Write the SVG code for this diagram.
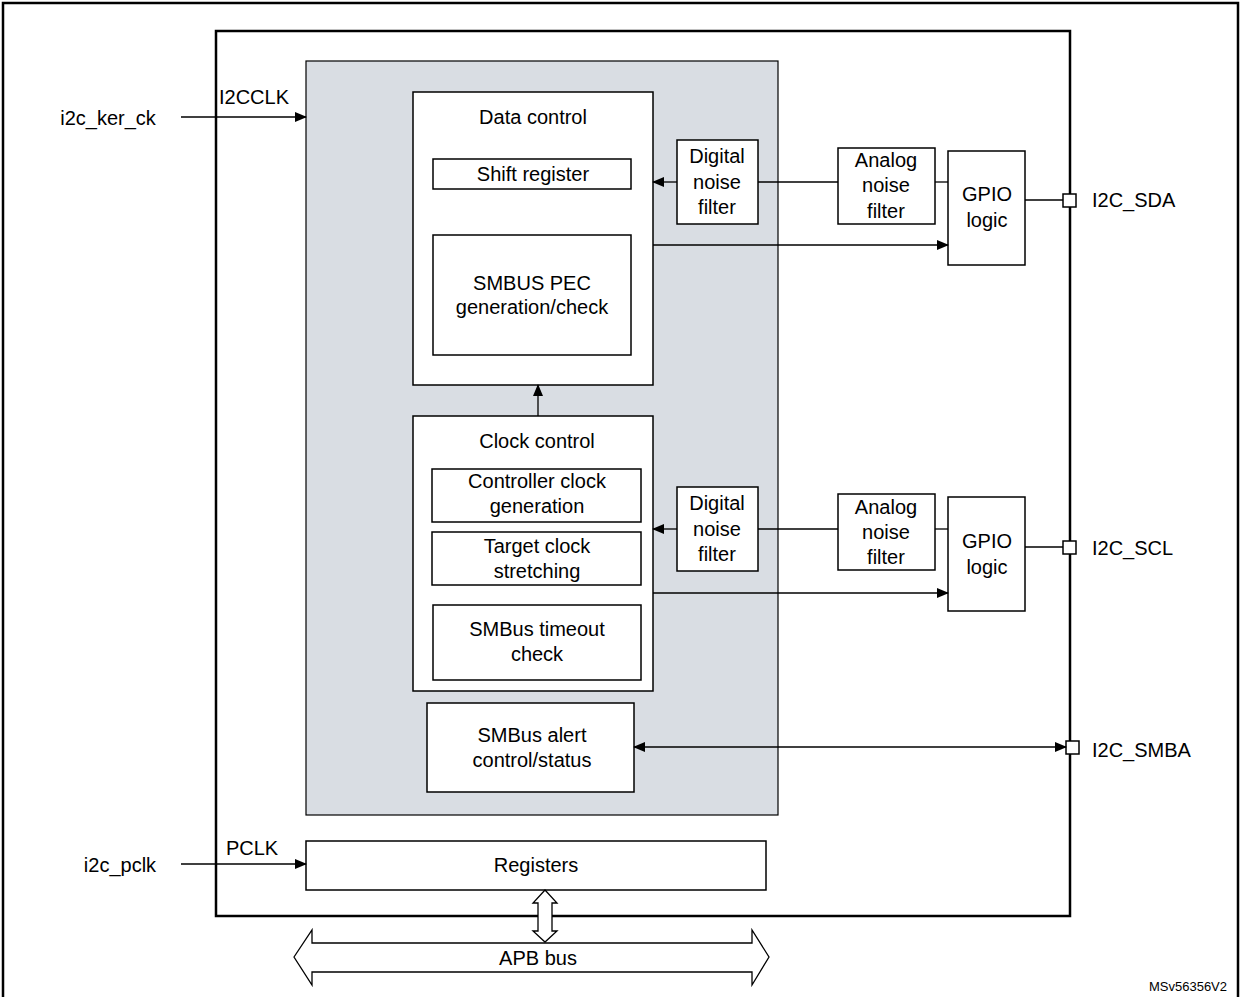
<svg xmlns="http://www.w3.org/2000/svg" width="1241" height="997" viewBox="0 0 1241 997">
<defs>
<marker id="ah" markerWidth="12" markerHeight="12" refX="11" refY="6" orient="auto-start-reverse" markerUnits="userSpaceOnUse"><path d="M0,1 L12,6 L0,11 z" fill="#000"/></marker>
<style>
text{font-family:"Liberation Sans",Arial,sans-serif;font-size:20px;fill:#000;text-anchor:middle}
.b{fill:#fff;stroke:#000;stroke-width:1.5}
.l{stroke:#000;stroke-width:1.3;fill:none}
</style>
</defs>
<rect width="1241" height="997" fill="#fff"/>
<path d="M3,997 V3 H1238 V997" fill="none" stroke="#000" stroke-width="2.5"/>
<rect id="i2c" x="216" y="31" width="854" height="885" fill="#fff" stroke="#000" stroke-width="2.5"/>
<rect id="core" x="306" y="61" width="472" height="754" fill="#d9dde3" stroke="#000" stroke-width="1.2"/>
<g id="datactl"><rect class="b" x="413" y="92" width="240" height="293"/><text x="533" y="124">Data control</text></g>
<g id="shift"><rect class="b" x="433" y="159" width="198" height="30"/><text x="533" y="181">Shift register</text></g>
<g id="pec"><rect class="b" x="433" y="235" width="198" height="120"/><text x="532" y="290">SMBUS PEC</text><text x="532" y="314">generation/check</text></g>
<g id="clkctl"><rect class="b" x="413" y="416" width="240" height="275"/><text x="537" y="448">Clock control</text></g>
<g id="ctrlclk"><rect class="b" x="432" y="469" width="209" height="53"/><text x="537" y="488">Controller clock</text><text x="537" y="513">generation</text></g>
<g id="tgtclk"><rect class="b" x="432" y="532" width="209" height="53"/><text x="537" y="553">Target clock</text><text x="537" y="578">stretching</text></g>
<g id="timeout"><rect class="b" x="433" y="605" width="208" height="75"/><text x="537" y="636">SMBus timeout</text><text x="537" y="661">check</text></g>
<g id="alert"><rect class="b" x="427" y="703" width="207" height="89"/><text x="532" y="742">SMBus alert</text><text x="532" y="767">control/status</text></g>
<g id="dnf1"><rect class="b" x="677" y="140" width="81" height="84"/><text x="717" y="163">Digital</text><text x="717" y="189">noise</text><text x="717" y="214">filter</text></g>
<g id="anf1"><rect class="b" x="838" y="148" width="97" height="76"/><text x="886" y="167">Analog</text><text x="886" y="192">noise</text><text x="886" y="218">filter</text></g>
<g id="gpio1"><rect class="b" x="948" y="151" width="77" height="114"/><text x="987" y="201">GPIO</text><text x="987" y="227">logic</text></g>
<g id="dnf2"><rect class="b" x="677" y="487" width="81" height="84"/><text x="717" y="510">Digital</text><text x="717" y="536">noise</text><text x="717" y="561">filter</text></g>
<g id="anf2"><rect class="b" x="838" y="494" width="97" height="76"/><text x="886" y="514">Analog</text><text x="886" y="539">noise</text><text x="886" y="564">filter</text></g>
<g id="gpio2"><rect class="b" x="948" y="497" width="77" height="114"/><text x="987" y="548">GPIO</text><text x="987" y="574">logic</text></g>
<g id="regs"><rect class="b" x="306" y="841" width="460" height="49"/><text x="536" y="872">Registers</text></g>
<g id="pins">
<rect class="b" x="1063" y="194" width="13" height="13"/><text x="1092" y="207" style="text-anchor:start">I2C_SDA</text>
<rect class="b" x="1063" y="541" width="13" height="13"/><text x="1092" y="555" style="text-anchor:start">I2C_SCL</text>
<rect class="b" x="1066" y="741" width="13" height="13"/><text x="1092" y="757" style="text-anchor:start">I2C_SMBA</text>
</g>
<g id="labels">
<text x="108" y="125">i2c_ker_ck</text><text x="254" y="104">I2CCLK</text>
<text x="120" y="872">i2c_pclk</text><text x="252" y="855">PCLK</text>
<text x="1188" y="991" style="font-size:13px">MSv56356V2</text>
</g>
<g id="connectors">
<line class="l" x1="181" y1="117" x2="306" y2="117" marker-end="url(#ah)"/>
<line class="l" x1="181" y1="864" x2="306" y2="864" marker-end="url(#ah)"/>
<line class="l" x1="677" y1="182" x2="653" y2="182" marker-end="url(#ah)"/>
<line class="l" x1="758" y1="182" x2="838" y2="182"/>
<line class="l" x1="935" y1="182" x2="948" y2="182"/>
<line class="l" x1="1025" y1="200" x2="1063" y2="200"/>
<line class="l" x1="653" y1="245" x2="948" y2="245" marker-end="url(#ah)"/>
<line class="l" x1="538" y1="416" x2="538" y2="385" marker-end="url(#ah)"/>
<line class="l" x1="677" y1="529" x2="653" y2="529" marker-end="url(#ah)"/>
<line class="l" x1="758" y1="529" x2="838" y2="529"/>
<line class="l" x1="935" y1="529" x2="948" y2="529"/>
<line class="l" x1="1025" y1="547" x2="1063" y2="547"/>
<line class="l" x1="653" y1="593" x2="948" y2="593" marker-end="url(#ah)"/>
<line class="l" x1="634" y1="747" x2="1066" y2="747" marker-start="url(#ah)" marker-end="url(#ah)"/>
<path d="M545,890 L557,903 H552 V931 H557 L545,942 L533,931 H538 V903 H533 Z" fill="#fff" stroke="#000" stroke-width="1.3"/>
<path d="M294,957 L312,930 V943 H752 V930 L769,957 L752,985 V972 H312 V985 Z" fill="#fff" stroke="#000" stroke-width="1.3"/>
</g>
<text x="538" y="965">APB bus</text>
</svg>
